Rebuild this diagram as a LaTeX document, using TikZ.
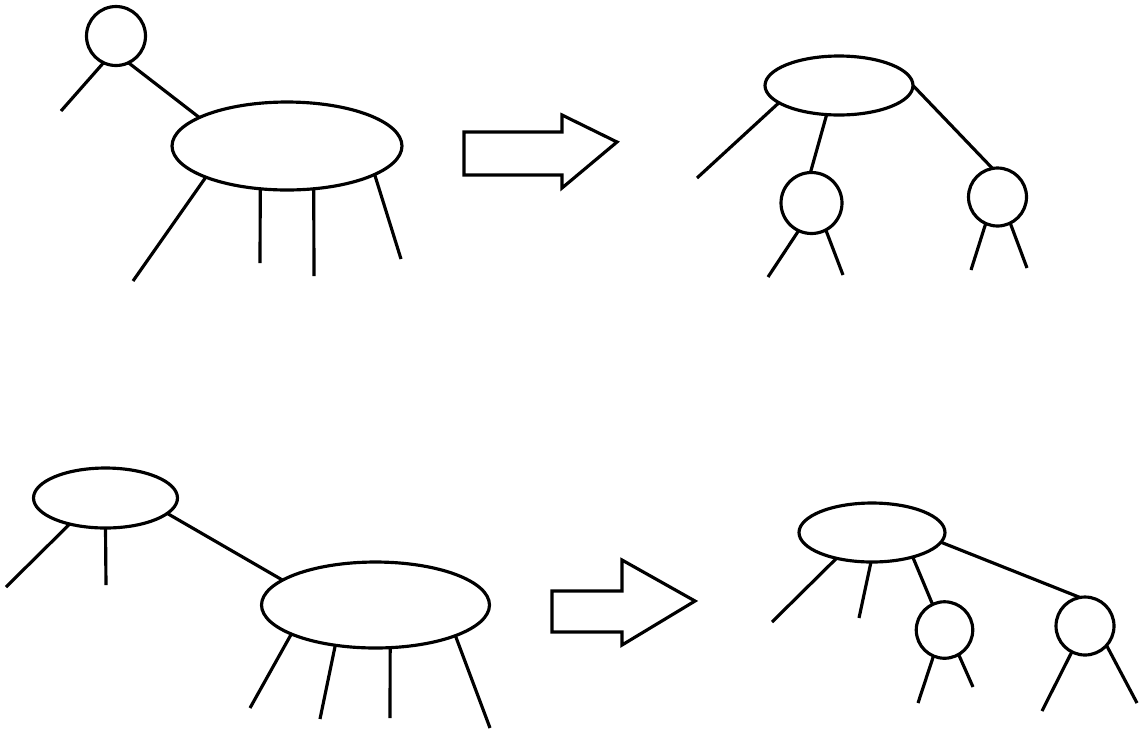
\documentclass[tikz,border=0pt]{standalone}
\usepackage{tikz}
\usetikzlibrary{shapes.geometric}

\begin{document}
\begin{tikzpicture}[x=0.02cm, y=-0.02cm, line width=1.8pt,
    keynode/.style={draw, ellipse, inner sep=0pt, outer sep=0pt},
    leafnode/.style={draw, circle, inner sep=0pt, outer sep=0pt, minimum size=1.18cm},
    splitarrow/.style={draw, line join=miter}]
  \useasboundingbox (0,0) rectangle (1145,735);

  % --- top: before the split
  \node[leafnode] (tsmall) at (116,36) {};
  \node[keynode, minimum width=4.6cm, minimum height=1.76cm] (tbig) at (287,146) {};
  \coordinate (ta) at (61,111);
  \coordinate (tb) at (133,281);
  \coordinate (tc) at (260,263);
  \coordinate (td) at (314,276);
  \coordinate (te) at (401,259);
  \draw (tsmall.245) -- (ta);
  \draw (tsmall.295) -- (tbig.162);
  \draw (tbig.201) -- (tb);
  \draw (tbig.238) -- (tc);
  \draw (tbig.302) -- (td);
  \draw (tbig.342) -- (te);

  \draw[splitarrow] (464,132) -- (562,132) -- (562,115) -- (617,142)
        -- (562,188) -- (562,175) -- (464,175) -- cycle;

  % --- top: after the split
  \node[keynode, minimum width=2.96cm, minimum height=1.18cm] (troot) at (839,85.5) {};
  \node[leafnode, minimum size=1.22cm] (tleft) at (811.5,203) {};
  \node[leafnode, minimum size=1.16cm] (tright) at (997.5,197) {};
  \coordinate (tf) at (697,178);
  \coordinate (tg) at (768,277);
  \coordinate (th) at (843,275);
  \coordinate (ti) at (971,270);
  \coordinate (tj) at (1027,268);
  \draw (troot.196) -- (tf);
  \draw (troot.247) -- (tleft.92);
  \draw (troot.0) -- (tright.100);
  \draw (tleft.245) -- (tg);
  \draw (tleft.298) -- (th);
  \draw (tright.246) -- (ti);
  \draw (tright.296) -- (tj);

  % --- bottom: before the split
  \node[keynode, minimum width=2.88cm, minimum height=1.2cm] (bsmall) at (105.5,498) {};
  \node[keynode, minimum width=4.56cm, minimum height=1.72cm] (bbig) at (375.5,605) {};
  \coordinate (ba) at (6,587);
  \coordinate (bb) at (106,585);
  \coordinate (bc) at (250,708);
  \coordinate (bd) at (320,719);
  \coordinate (be) at (390,718);
  \coordinate (bf) at (490,728);
  \draw (bsmall.216) -- (ba);
  \draw (bsmall.270) -- (bb);
  \draw (bsmall.346) -- (bbig.165);
  \draw (bbig.199) -- (bc);
  \draw (bbig.225) -- (bd);
  \draw (bbig.289) -- (be);
  \draw (bbig.339) -- (bf);

  \draw[splitarrow] (552,591) -- (622,591) -- (622,560) -- (695,601)
        -- (622,645) -- (622,632) -- (552,632) -- cycle;

  % --- bottom: after the split
  \node[keynode, minimum width=2.92cm, minimum height=1.18cm] (broot) at (872,532.5) {};
  \node[leafnode, minimum size=1.13cm] (bleft) at (944.5,630) {};
  \node[leafnode, minimum size=1.16cm] (bright) at (1085,626) {};
  \coordinate (bg) at (772,622);
  \coordinate (bh) at (859,618);
  \coordinate (bi) at (918,703);
  \coordinate (bj) at (973,687);
  \coordinate (bk) at (1042,711);
  \coordinate (bl) at (1137,703);
  \draw (broot.216) -- (bg);
  \draw (broot.268) -- (bh);
  \draw (broot.329) -- (bleft.115);
  \draw (broot.352) -- (bright.100);
  \draw (bleft.247) -- (bi);
  \draw (bleft.300) -- (bj);
  \draw (bright.243) -- (bk);
  \draw (bright.318) -- (bl);
\end{tikzpicture}
\end{document}
